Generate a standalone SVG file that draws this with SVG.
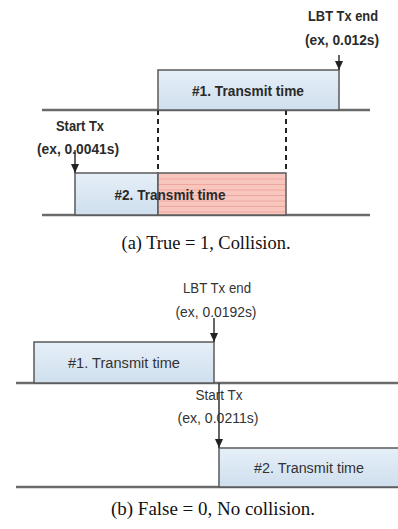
<svg xmlns="http://www.w3.org/2000/svg" width="398" height="529" viewBox="0 0 398 529">
<style>
.base{stroke:#6b6b6b;stroke-width:2.5;fill:none}
.box{fill:url(#blue);stroke:#5a5a5a;stroke-width:1.5}
.red{fill:#f9c6be;stroke:#5a5a5a;stroke-width:1.5}
.stripe{stroke:#eea79e;stroke-width:1}
.dash{stroke:#222;stroke-width:2;stroke-dasharray:5 4;fill:none}
.lb{font-family:"Liberation Sans",Arial,sans-serif;font-size:14.5px;font-weight:bold;fill:#2a2a2a;text-anchor:middle}
.lr{font-family:"Liberation Sans",Arial,sans-serif;font-size:14px;fill:#333;text-anchor:middle}
.cap{font-family:"Liberation Serif","Times New Roman",serif;font-size:18px;fill:#111;text-anchor:middle}
.al{stroke:#333;stroke-width:1.5}
.ah{fill:#222}
</style>
<defs>
<linearGradient id="blue" x1="0" y1="0" x2="0" y2="1">
<stop offset="0" stop-color="#e6eff8"/>
<stop offset="1" stop-color="#cfdfee"/>
</linearGradient>
</defs>

<g id="connectors">
<line class="base" x1="42" y1="110" x2="370" y2="110"/>
<line class="base" x1="42" y1="215" x2="370" y2="215"/>
<line class="dash" x1="158" y1="110" x2="158" y2="173"/>
<line class="dash" x1="286" y1="110" x2="286" y2="173"/>
<line class="base" x1="16" y1="383" x2="398" y2="383"/>
<line class="base" x1="16" y1="487" x2="398" y2="487"/>
</g>

<g id="a-tx1">
<rect class="box" x="158" y="70" width="181" height="40"/>
<text class="lb" x="248" y="96" textLength="112" lengthAdjust="spacingAndGlyphs">#1. Transmit time</text>
</g>

<g id="a-tx2">
<rect class="box" x="75" y="173" width="83" height="42"/>
<rect class="red" x="158" y="173" width="128" height="42"/>
<g class="stripe">
<line x1="159" y1="179" x2="285" y2="179"/>
<line x1="159" y1="184.5" x2="285" y2="184.5"/>
<line x1="159" y1="190" x2="285" y2="190"/>
<line x1="159" y1="195.5" x2="285" y2="195.5"/>
<line x1="159" y1="201" x2="285" y2="201"/>
<line x1="159" y1="206.5" x2="285" y2="206.5"/>
<line x1="159" y1="212" x2="285" y2="212"/>
</g>
<text class="lb" x="170" y="200" textLength="111" lengthAdjust="spacingAndGlyphs">#2. Transmit time</text>
</g>

<g id="a-lbt-end">
<text class="lb" x="343" y="21" textLength="70" lengthAdjust="spacingAndGlyphs">LBT Tx end</text>
<text class="lb" x="342" y="45" textLength="74" lengthAdjust="spacingAndGlyphs">(ex, 0.012s)</text>
<line class="al" x1="339" y1="55" x2="339" y2="70"/>
<path class="ah" d="M335,61 L343,61 L339,70 Z"/>
</g>

<g id="a-start">
<text class="lb" x="80" y="131" textLength="48" lengthAdjust="spacingAndGlyphs">Start Tx</text>
<text class="lb" x="78" y="154" textLength="82" lengthAdjust="spacingAndGlyphs">(ex, 0.0041s)</text>
<line class="al" x1="75" y1="150" x2="75" y2="173"/>
<path class="ah" d="M71,164 L79,164 L75,173 Z"/>
</g>

<text class="cap" x="206" y="249" textLength="169" lengthAdjust="spacingAndGlyphs">(a) True = 1, Collision.</text>

<g id="b-tx1">
<rect class="box" x="34" y="342" width="180" height="41"/>
<text class="lr" x="124" y="368" textLength="112" lengthAdjust="spacingAndGlyphs">#1. Transmit time</text>
</g>

<g id="b-lbt-end">
<text class="lr" x="217" y="293" textLength="68" lengthAdjust="spacingAndGlyphs">LBT Tx end</text>
<text class="lr" x="216" y="317" textLength="81" lengthAdjust="spacingAndGlyphs">(ex, 0.0192s)</text>
<line class="al" x1="214" y1="318" x2="214" y2="342"/>
<path class="ah" d="M210,333 L218,333 L214,342 Z"/>
</g>

<g id="b-tx2">
<rect class="box" x="219" y="448" width="182" height="39"/>
<text class="lr" x="309" y="473" textLength="110" lengthAdjust="spacingAndGlyphs">#2. Transmit time</text>
</g>

<g id="b-start">
<text class="lr" x="219" y="400" textLength="47" lengthAdjust="spacingAndGlyphs">Start Tx</text>
<text class="lr" x="218" y="423" textLength="81" lengthAdjust="spacingAndGlyphs">(ex, 0.0211s)</text>
<line class="al" x1="219" y1="383" x2="219" y2="448"/>
<path class="ah" d="M215,439 L223,439 L219,448 Z"/>
</g>

<text class="cap" x="213" y="515" textLength="204" lengthAdjust="spacingAndGlyphs">(b) False = 0, No collision.</text>
</svg>
